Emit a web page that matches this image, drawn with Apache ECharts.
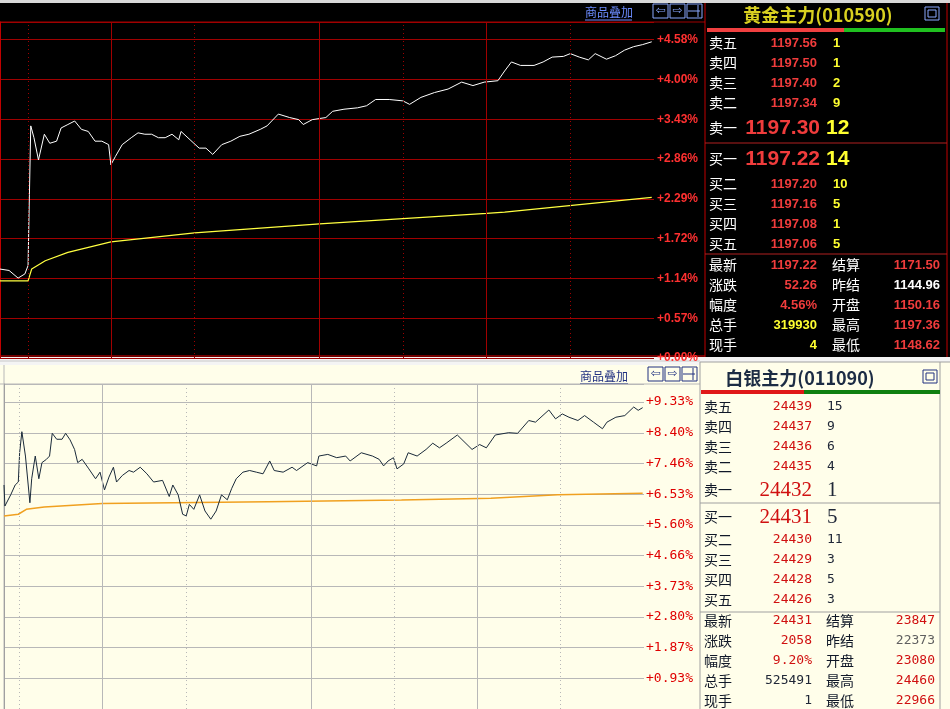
<!DOCTYPE html>
<html><head><meta charset="utf-8">
<script src="https://cdn.jsdelivr.net/npm/echarts@6/dist/echarts.min.js"></script>
<style>html,body{margin:0;padding:0;background:#000}#c{width:950px;height:709px}</style>
</head><body><div id="c"></div>
<script>
// ---- Gold (top) ----
const goldX = [0,20,40,55,62,65,68,75,85,98,110,125,135,150,165,180,195,210,225,240,245,255,270,290,305,320,335,350,365,380,395,400,420,440,455,470,490,510,530,550,575,590,615,640,660,670,690,720,735,760,790,810,830,860,890,905,930,960,990,1020,1045,1070,1100,1115,1130,1150,1180,1200,1220,1245,1260,1280,1300,1315,1340,1360,1380,1400,1420,1440];
const goldPct = [1.28,1.26,1.15,1.21,1.33,2.35,3.34,3.17,2.85,3.22,3.09,3.12,3.31,3.36,3.41,3.29,3.26,3.12,3.12,3.07,2.78,2.90,3.07,3.17,3.24,3.22,3.22,3.17,3.17,3.22,3.14,3.26,3.14,3.02,3.02,2.93,3.07,3.12,3.19,3.22,3.29,3.34,3.51,3.46,3.43,3.36,3.43,3.46,3.55,3.58,3.60,3.63,3.72,3.72,3.70,3.65,3.75,3.82,3.87,3.97,3.92,3.97,3.99,4.13,4.26,4.21,4.21,4.26,4.33,4.34,4.38,4.33,4.29,4.38,4.30,4.35,4.43,4.48,4.51,4.55];
const goldAvgX = [0,62,70,100,150,245,430,706,1075,1115,1440];
const goldAvg = [1.11,1.11,1.28,1.40,1.52,1.67,1.80,1.93,2.08,2.10,2.31];
const goldTicks = ['0.00','0.57','1.14','1.72','2.29','2.86','3.43','4.00','4.58'];
const goldSolid = [245,706,1075], goldDotted = [62,430,890,1260];
// ---- Silver (bottom) ----
const silX = [0,2,15,25,32,35,40,48,58,62,70,78,85,95,102,108,118,130,138,148,158,165,175,190,205,215,225,235,245,252,265,280,290,305,320,335,355,370,378,390,400,408,415,425,438,450,463,475,487,500,510,520,535,550,565,580,595,605,625,645,655,680,700,705,725,745,765,775,800,825,840,850,860,872,880,895,905,925,945,960,975,990,1015,1030,1048,1065,1080,1100,1130,1150,1175,1190,1220,1235,1250,1265,1285,1300,1320,1340,1350,1370,1390,1410,1420,1430];
const silPct = [6.81,6.17,6.51,6.81,6.90,7.79,8.43,7.69,6.27,7.00,7.69,7.00,7.49,7.59,7.69,8.38,8.20,8.20,8.38,8.18,7.89,7.49,7.59,7.30,7.00,7.20,6.66,7.05,7.35,6.90,7.10,7.25,7.20,7.35,7.15,6.90,6.95,6.46,6.81,6.51,5.92,5.87,6.22,6.07,6.51,6.02,5.77,6.02,6.51,6.36,6.71,7.00,7.20,7.25,7.20,7.15,7.54,7.25,7.20,7.35,7.25,7.49,7.39,7.69,7.74,7.64,7.69,7.54,7.79,7.69,7.59,7.39,7.54,7.64,7.30,7.45,7.79,7.69,7.89,8.08,7.94,8.08,8.33,8.13,7.89,8.04,7.94,8.33,8.40,8.38,8.77,8.72,9.09,8.82,8.97,8.87,8.77,8.92,8.72,8.52,8.72,8.87,8.92,9.18,9.08,9.16];
const silAvgX = [0,32,50,90,220,590,890,1090,1240,1430];
const silAvg = [5.87,5.92,6.07,6.14,6.25,6.30,6.35,6.41,6.51,6.56];
const silTicks = ['0.00','0.93','1.87','2.80','3.73','4.66','5.60','6.53','7.46','8.40','9.33'];
const silSolid = [220,688,1060], silDotted = [34,408,874,1245];
// ---- Quote panels ----
const goldTitle = '黄金主力(010590)';
const goldAsk = [['卖五','1197.56','1'],['卖四','1197.50','1'],['卖三','1197.40','2'],['卖二','1197.34','9'],['卖一','1197.30','12']];
const goldBid = [['买一','1197.22','14'],['买二','1197.20','10'],['买三','1197.16','5'],['买四','1197.08','1'],['买五','1197.06','5']];
const goldStats = [['最新','1197.22','结算','1171.50'],['涨跌','52.26','昨结','1144.96'],['幅度','4.56%','开盘','1150.16'],['总手','319930','最高','1197.36'],['现手','4','最低','1148.62']];
const silTitle = '白银主力(011090)';
const silAsk = [['卖五','24439','15'],['卖四','24437','9'],['卖三','24436','6'],['卖二','24435','4'],['卖一','24432','1']];
const silBid = [['买一','24431','5'],['买二','24430','11'],['买三','24429','3'],['买四','24428','5'],['买五','24426','3']];
const silStats = [['最新','24431','结算','23847'],['涨跌','2058','昨结','22373'],['幅度','9.20%','开盘','23080'],['总手','525491','最高','24460'],['现手','1','最低','22966']];

const zip = (xs, ys) => xs.map((x, i) => [x, ys[i]]);
const vlines = (solid, dotted, color) => ({
  silent: true, symbol: 'none', label: {show: false},
  data: solid.map(v => ({xAxis: v, lineStyle: {color, type: 'solid', width: 1}}))
    .concat(dotted.map(v => ({xAxis: v, lineStyle: {color, type: [1, 3], width: 1}})))
});

const g = [];
const T = (x, y, text, fill, size, o = {}) => g.push({type: 'text', x, y, silent: true, style: Object.assign({text, fill, font: (o.w || 'normal') + ' ' + size + 'px ' + (o.f || '"Noto Sans CJK SC"'), textAlign: o.a || 'left', textVerticalAlign: 'middle'}, o.s || {})});
const R = (x, y, w, h, fill, stroke) => g.push({type: 'rect', silent: true, shape: {x, y, width: w, height: h}, style: {fill: fill || 'none', stroke: stroke || 'none', lineWidth: 1}});
const L = (x1, y1, x2, y2, stroke) => g.push({type: 'line', silent: true, shape: {x1, y1, x2, y2}, style: {stroke, lineWidth: 1}});

// backgrounds
R(0, 0, 950, 3, '#d8d8d8');
R(0, 357, 950, 8, '#f4f4f4');
R(0, 355, 705, 2, '#700000');
L(0, 361, 700, 361, '#c8c8c8');
R(0, 365, 700, 344, '#fffeea');
R(700, 362, 250, 347, '#fffeea');
L(0, 22, 705, 22, '#a00000');
L(705, 3, 705, 357, '#c00000');
L(947, 3, 947, 357, '#c00000');
L(0, 384, 700, 384, '#b8b8b8');
L(700, 362, 700, 709, '#a0a0a0');
L(940, 362, 940, 709, '#a0a0a0');
L(700, 362, 950, 362, '#a0a0a0');
L(4, 365, 4, 709, '#b8b8b8');

// header links and icons
T(585, 12, '商品叠加', '#6c8cff', 12);
L(585, 20, 632, 20, '#6c8cff');
T(580, 376, '商品叠加', '#203080', 12);
L(580, 384, 628, 384, '#203080');
function icons(x, y, c, bg) {
  for (let i = 0; i < 3; i++) R(x + i * 17, y, 15, 14, bg, c);
  T(x + 7.5, y + 7, '⇦', c, 12, {a: 'center', f: 'DejaVu Sans'});
  T(x + 24.5, y + 7, '⇨', c, 12, {a: 'center', f: 'DejaVu Sans'});
  L(x + 35, y + 7, x + 47, y + 7, c);
  L(x + 45, y + 1, x + 45, y + 13, c);
}
icons(653, 4, '#8aa8ff', '#000');
icons(648, 367, '#203080', '#fffeea');

function panel(p) {
  T(p.cx, p.ty, p.title, p.tc, 18, {a: 'center', w: 'bold'});
  R(p.ix, p.ty - 8, 14, 13, 'none', p.ic);
  R(p.ix + 3, p.ty - 5, 8, 7, 'none', p.ic);
  R(p.bx, p.by, p.bsplit - p.bx, 4, p.red);
  R(p.bsplit, p.by, p.bend - p.bsplit, 4, p.green);
  p.ask.forEach((r, i) => {
    const big = i === 4, y = p.ay[i];
    T(p.lx, y, r[0], p.lab, 14);
    T(big ? p.bpx : p.px, y, r[1], p.price, big ? 21 : 13, {a: 'right', w: p.nw, f: big ? p.bf : p.nf});
    T(big ? p.bvx : p.vx, y, r[2], p.vol, big ? 21 : 13, {w: p.nw, f: big ? p.bf : p.nf});
  });
  L(p.l0, p.sep1, p.l1, p.sep1, p.sep);
  p.bid.forEach((r, i) => {
    const big = i === 0, y = p.byy[i];
    T(p.lx, y, r[0], p.lab, 14);
    T(big ? p.bpx : p.px, y, r[1], p.price, big ? 21 : 13, {a: 'right', w: p.nw, f: big ? p.bf : p.nf});
    T(big ? p.bvx : p.vx, y, r[2], p.vol, big ? 21 : 13, {w: p.nw, f: big ? p.bf : p.nf});
  });
  L(p.l0, p.sep2, p.l1, p.sep2, p.sep);
  p.stats.forEach((r, i) => {
    const y = p.sy[i];
    T(p.lx, y, r[0], p.lab, 14);
    T(p.px, y, r[1], p.sc1[i], 13, {a: 'right', w: p.nw, f: p.nf});
    T(p.l2x, y, r[2], p.lab, 14);
    T(p.v2x, y, r[3], p.sc2[i], 13, {a: 'right', w: p.nw, f: p.nf});
  });
}
panel({title: goldTitle, cx: 818, ty: 15, tc: '#d8d020', ix: 925, ic: '#8aa8ff',
  bx: 707, by: 28, bsplit: 844, bend: 945, red: '#f04040', green: '#20c020',
  ask: goldAsk, bid: goldBid, stats: goldStats,
  ay: [43, 63, 83, 103, 128], byy: [159, 184, 204, 224, 244], sy: [265, 285, 305, 325, 345],
  lx: 709, px: 817, bpx: 820, vx: 833, bvx: 826, l2x: 832, v2x: 940,
  lab: '#ffffff', price: '#f03c3c', vol: '#ffff30', nw: 'bold', nf: 'Arial, "Liberation Sans"', bf: 'Arial, "Liberation Sans"',
  l0: 705, l1: 947, sep1: 143, sep2: 254, sep: '#b02020',
  sc1: ['#f03c3c', '#f03c3c', '#f03c3c', '#ffff30', '#ffff30'],
  sc2: ['#f03c3c', '#ffffff', '#f03c3c', '#f03c3c', '#f03c3c']});
panel({title: silTitle, cx: 800, ty: 378, tc: '#1c2c44', ix: 923, ic: '#203080',
  bx: 701, by: 390, bsplit: 804, bend: 940, red: '#e01818', green: '#108010',
  ask: silAsk, bid: silBid, stats: silStats,
  ay: [407, 427, 447, 467, 490], byy: [517, 540, 560, 580, 600], sy: [621, 641, 661, 681, 701],
  lx: 704, px: 812, bpx: 812, vx: 827, bvx: 827, l2x: 826, v2x: 935,
  lab: '#101828', price: '#d01010', vol: '#202838', nw: 'normal', nf: '"DejaVu Sans Mono"', bf: '"Liberation Serif"',
  l0: 700, l1: 940, sep1: 503, sep2: 612, sep: '#a0a0a0',
  sc1: ['#d01010', '#d01010', '#d01010', '#202838', '#202838'],
  sc2: ['#d01010', '#606060', '#d01010', '#d01010', '#d01010']});

const chart = echarts.init(document.getElementById('c'));
chart.setOption({
  backgroundColor: '#000',
  animation: false,
  grid: [
    {left: -2, top: 22, width: 656, height: 336},
    {left: 4, top: 384, width: 640, height: 335}
  ],
  xAxis: [
    {type: 'value', gridIndex: 0, min: 0, max: 1445, show: false},
    {type: 'value', gridIndex: 1, min: 0, max: 1433, show: false}
  ],
  yAxis: [
    {type: 'value', gridIndex: 0, min: 0, max: 4.835, interval: 0.5725, position: 'right',
      axisLine: {show: true, lineStyle: {color: '#c00000'}}, axisTick: {show: false},
      splitLine: {lineStyle: {color: '#a00000'}},
      axisLabel: {color: '#ff3030', fontWeight: 'bold', fontSize: 12, fontFamily: 'Arial', margin: 3,
        formatter: (v) => { const i = Math.round(v / 0.5725); return (Math.abs(i * 0.5725 - v) < 1e-6 && goldTicks[i]) ? '+' + goldTicks[i] + '%' : ''; }}},
    {type: 'value', gridIndex: 1, min: 0, max: 9.88, interval: 0.933, position: 'right',
      axisLine: {show: true, lineStyle: {color: '#a0a0a0'}}, axisTick: {show: false},
      splitLine: {lineStyle: {color: '#b8b8b8'}},
      axisLabel: {color: '#e00000', fontSize: 13, fontFamily: '"DejaVu Sans Mono"', margin: 2,
        formatter: (v) => { const i = Math.round(v / 0.933); return (Math.abs(i * 0.933 - v) < 1e-6 && i > 0 && silTicks[i]) ? '+' + silTicks[i] + '%' : ''; }}}
  ],
  series: [
    {type: 'line', xAxisIndex: 0, yAxisIndex: 0, data: zip(goldAvgX, goldAvg), symbol: 'none', lineStyle: {color: '#ffff40', width: 1.2}, markLine: vlines(goldSolid, goldDotted, '#a00000')},
    {type: 'line', xAxisIndex: 0, yAxisIndex: 0, data: zip(goldX, goldPct), symbol: 'none', lineStyle: {color: '#ffffff', width: 1}},
    {type: 'line', xAxisIndex: 1, yAxisIndex: 1, data: zip(silAvgX, silAvg), symbol: 'none', lineStyle: {color: '#f0a020', width: 1.5}, markLine: vlines(silSolid, silDotted, '#b8b8b8')},
    {type: 'line', xAxisIndex: 1, yAxisIndex: 1, data: zip(silX, silPct), symbol: 'none', lineStyle: {color: '#1a2a3a', width: 1}}
  ],
  graphic: {elements: g}
});
</script></body></html>
